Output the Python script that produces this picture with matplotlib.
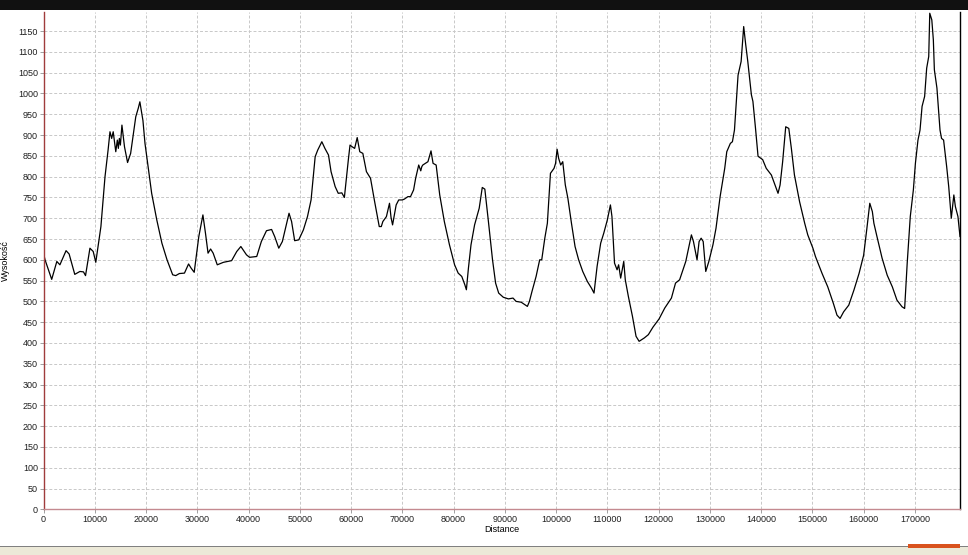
import matplotlib
matplotlib.use("Agg")
import matplotlib.pyplot as plt
from matplotlib.patches import Rectangle

# distance in km (converted to m below) and elevation in m
dist_km = [0.0, 0.3, 1.6, 2.6, 3.2, 4.4, 5.0, 5.5, 6.1, 7.1, 7.8, 8.2, 9.06, 9.7, 10.2,
           11.2, 12.0, 12.6, 12.97, 13.3, 13.6, 14.1, 14.4, 14.6, 14.8, 15.0, 15.3, 15.8,
           16.4, 17.0, 18.0, 18.5, 18.8, 19.2, 19.4, 19.8, 21.1, 22.1, 23.1, 24.1, 25.2,
           25.8, 26.5, 27.5, 28.3, 28.8, 29.4, 30.3, 31.1, 31.6, 32.1, 32.6, 33.1, 33.9,
           35.1, 36.7, 37.7, 38.5, 39.6, 40.2, 41.6, 42.5, 43.5, 44.5, 45.1, 45.9, 46.6,
           47.9, 48.4, 49.0, 49.8, 50.7, 51.5, 52.2, 53.0, 53.5, 54.3, 54.9, 55.6, 56.1,
           56.9, 57.5, 58.2, 58.7, 59.5, 59.8, 60.2, 60.7, 61.2, 61.7, 62.3, 63.0, 63.8,
           64.6, 65.5, 65.9, 66.2, 66.9, 67.5, 67.8, 68.1, 68.8, 69.3, 70.0, 70.4, 71.1,
           71.6, 72.2, 72.6, 73.2, 73.6, 73.8, 74.0, 74.5, 75.0, 75.6, 76.0, 76.6, 77.3,
           78.2, 79.2, 80.2, 80.9, 81.6, 82.2, 82.5, 82.9, 83.4, 84.1, 85.0, 85.6, 86.1,
           86.8, 87.6, 88.2, 88.8, 89.7, 90.7, 91.6, 92.2, 93.2, 94.4, 94.8, 95.3, 96.1,
           96.8, 97.2, 97.8, 98.3, 98.9, 99.6, 99.9, 100.2, 100.5, 100.9, 101.3, 101.8,
           102.3, 103.0, 103.7, 104.4, 105.2, 106.1, 106.9, 107.4, 108.0, 108.7, 109.3,
           110.0, 110.6, 110.9, 111.4, 111.9, 112.2, 112.6, 113.2, 113.5, 114.1, 114.9,
           115.6, 116.2, 117.2, 118.0, 118.9, 120.1, 121.2, 122.5, 123.3, 124.1, 125.3,
           126.4, 126.8, 127.5, 127.9, 128.3, 128.7, 129.2, 129.8, 130.6, 131.2, 132.0,
           132.9, 133.3, 134.0, 134.4, 134.8, 135.5, 136.1, 136.6, 137.0, 137.4, 138.1,
           138.4, 138.9, 139.4, 140.3, 141.0, 142.0, 142.6, 143.3, 143.7, 144.2, 144.8,
           145.4, 145.9, 146.5, 147.5, 148.5, 149.1, 150.1, 150.6, 151.9, 153.0, 154.1,
           154.8, 155.4, 156.1, 157.1, 158.1, 159.1, 160.0, 160.6, 161.2, 161.7, 162.0,
           162.6, 163.6, 164.6, 165.6, 166.5, 167.5, 168.0, 168.5, 169.1, 169.7, 170.1,
           170.6, 171.0, 171.4, 171.9, 172.3, 172.7, 172.9, 173.3, 173.6, 173.8, 174.3,
           174.9, 175.2, 175.6, 176.2, 176.6, 177.1, 177.6, 177.9, 178.4, 178.8]
elevation = [616, 600, 553, 596, 588, 622, 614, 592, 565, 572, 571, 562, 628, 620, 594,
             680, 800, 864, 908, 892, 908, 860, 888, 868, 892, 876, 924, 872,
             834, 856, 944, 965, 980, 950, 935, 880, 760, 696, 640, 600, 564,
             562, 567, 568, 590, 580, 570, 656, 708, 664, 616, 626, 616, 588,
             594, 598, 620, 632, 612, 606, 608, 644, 670, 673, 656, 628, 644,
             712, 692, 646, 648, 672, 704, 744, 848, 864, 884, 868, 852, 812,
             776, 760, 761, 750, 844, 876, 872, 868, 894, 860, 856, 812, 796,
             740, 680, 680, 692, 704, 736, 702, 684, 732, 744, 744, 746, 752,
             752, 768, 796, 828, 814, 824, 828, 832, 836, 862, 832, 828, 756,
             692, 636, 588, 568, 560, 540, 528, 580, 636, 684, 724, 774, 770,
             692, 600, 544, 520, 510, 506, 508, 500, 498, 488, 500, 524, 560,
             600, 600, 652, 688, 808, 820, 832, 866, 844, 828, 836, 780,
             748, 688, 632, 600, 572, 548, 532, 520, 584, 640, 664,
             696, 732, 704, 592, 576, 588, 556, 596, 552, 512, 464,
             416, 404, 412, 420, 438, 458, 484, 508, 544, 552, 596,
             660, 644, 600, 644, 652, 644, 572, 596, 636, 676, 752,
             820, 860, 880, 884, 912, 1044, 1077, 1161, 1117, 1077, 997,
             981, 917, 849, 841, 820, 804, 784, 760, 780, 836, 920,
             916, 868, 804, 740, 688, 660, 628, 608, 567, 535, 495,
             467, 459, 475, 491, 527, 567, 611, 672, 736, 716, 688,
             656, 604, 563, 535, 503, 487, 483, 592, 704, 768, 832,
             888, 912, 969, 993, 1061, 1089, 1193, 1177, 1129, 1057, 1013,
             912, 892, 888, 824, 776, 700, 756, 728, 704, 656]

x_ticks = list(range(0, 170001, 10000))
y_ticks = list(range(0, 1151, 50))
x_label = "Distance"
y_label = "Wysokość"

distance = [d * 1000 for d in dist_km]

W, H = 968, 555
fig = plt.figure(figsize=(W / 100, H / 100), dpi=100)
fig.patch.set_facecolor("white")

ax = fig.add_axes([43.5 / W, (H - 509.3) / H, (960 - 43.5) / W, (509.3 - 12) / H])
ax.plot(distance, elevation, color="black", lw=0.9)
ax.set_xlim(0, 178800)
ax.set_ylim(0, 1196)
ax.set_xticks(x_ticks)
ax.set_yticks(y_ticks)
ax.set_xticklabels([str(v) for v in x_ticks])
ax.set_yticklabels([str(v) for v in y_ticks])
ax.grid(True, color="#c8c8c8", linestyle=(0, (3, 2)), lw=0.7)
ax.set_axisbelow(True)

ax.spines["top"].set_visible(False)
ax.spines["left"].set_color("#a03c3c")
ax.spines["bottom"].set_color("#c48a90")
ax.spines["right"].set_color("black")
for s in ax.spines.values():
    s.set_linewidth(1.0)

ax.tick_params(axis="both", labelsize=6.5, colors="#202020", length=3, width=0.6,
               pad=1)
ax.tick_params(axis="both", color="#909090")
for lbl in ax.get_xticklabels() + ax.get_yticklabels():
    lbl.set_family("Liberation Sans")

ax.set_xlabel(x_label, fontsize=6.5, family="Liberation Sans", labelpad=1)
ax.set_ylabel(y_label, fontsize=6.5, family="Liberation Sans", labelpad=6)

# window decoration: dark strip at top, status strip at bottom
fig.patches.append(Rectangle((0, (H - 10) / H), 1, 10 / H, transform=fig.transFigure,
                             facecolor="#111111", edgecolor="none"))
fig.patches.append(Rectangle((0, 0), 1, 8 / H, transform=fig.transFigure,
                             facecolor="#ece9d8", edgecolor="none"))
fig.patches.append(Rectangle((0, 8 / H), 1, 1.5 / H, transform=fig.transFigure,
                             facecolor="#808080", edgecolor="none"))
fig.patches.append(Rectangle((908 / W, 7 / H), 52 / W, 4 / H, transform=fig.transFigure,
                             facecolor="#d9531e", edgecolor="none"))

fig.savefig("out.png", dpi=100)
